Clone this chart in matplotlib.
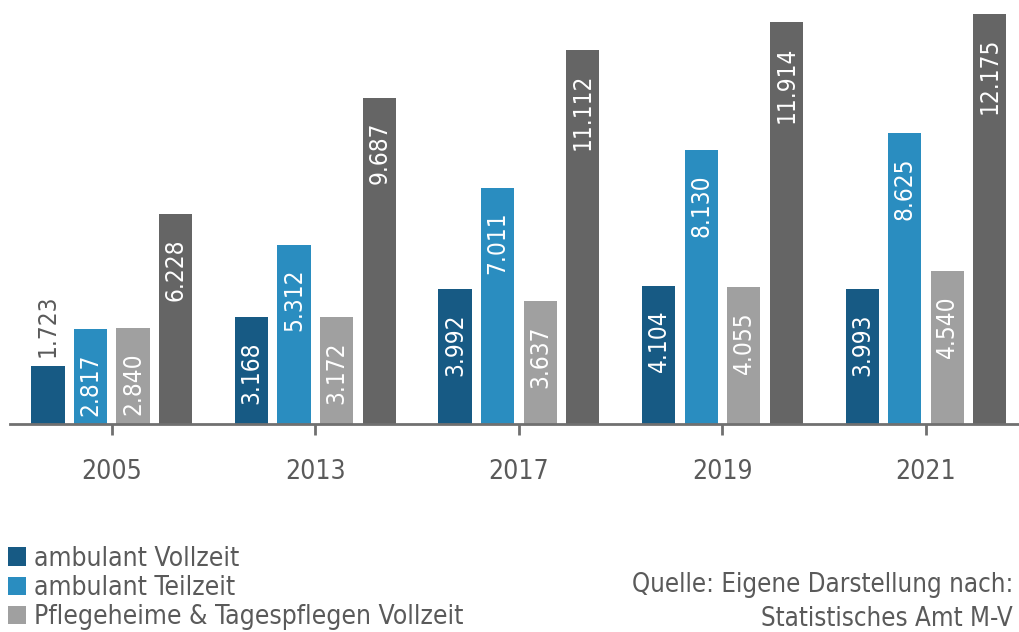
import matplotlib
matplotlib.use("Agg")
import matplotlib.pyplot as plt
import numpy as np

# schmale Schrift wie im Original
plt.rcParams['font.family'] = ['DejaVu Sans']
plt.rcParams['font.stretch'] = 'condensed'

years = ['2005', '2013', '2017', '2019', '2021']
amb_voll = [1.723, 3.168, 3.992, 4.104, 3.993]
amb_teil = [2.817, 5.312, 7.011, 8.130, 8.625]
pflege_voll = [2.840, 3.172, 3.637, 4.055, 4.540]
pflege_teil = [6.228, 9.687, 11.112, 11.914, 12.175]

series = [amb_voll, amb_teil, pflege_voll, pflege_teil]
names = ['ambulant Vollzeit', 'ambulant Teilzeit',
         'Pflegeheime & Tagespflegen Vollzeit', 'Pflegeheime & Tagespflegen Teilzeit']
colors = ['#175a84', '#2a8dc0', '#a0a0a0', '#656565']
txt = '#5a5a5a'

fig = plt.figure(figsize=(10.19, 6.32), dpi=100)
ax = fig.add_axes([10 / 1019, 1 - 424 / 632, 1 - 10 / 1019, 424 / 632])

x = np.arange(len(years))
w = 0.163
offs = [-1.5, -0.5, 0.5, 1.5]
bars = []
for i, vals in enumerate(series):
    b = ax.bar(x + offs[i] * 0.209, vals, w, color=colors[i], zorder=2)
    bars.append(b)
    for xi, v in zip(x + offs[i] * 0.209, vals):
        lab = f'{v:.3f}'
        if v < 2:
            # Balken zu kurz -> Wert oberhalb
            ax.annotate(lab, (xi, v), xytext=(0, 9), textcoords='offset pixels',
                        rotation=90, ha='center', va='bottom', color=txt, fontsize=17.5)
        else:
            ax.annotate(lab, (xi, v), xytext=(0, -24), textcoords='offset pixels',
                        rotation=90, ha='center', va='top', color='white', fontsize=17.5)

ax.set_xlim(-0.5, (1019 - 112) / 203.5)
ax.set_ylim(0, 424 / 33.7)
ax.set_xticks(x)
ax.set_xticklabels(years, fontsize=19, color=txt)
ax.set_yticks([])
for s in ['top', 'right', 'left']:
    ax.spines[s].set_visible(False)
ax.spines['bottom'].set_color('#707070')
ax.spines['bottom'].set_linewidth(2)
ax.tick_params(axis='x', length=8, width=2, color='#707070', pad=17)

fig.legend(bars[:3], names[:3], loc='upper left', bbox_to_anchor=(0.0, 1 - 538 / 632),
           frameon=False, fontsize=19, labelcolor=txt, handlelength=0.7, handleheight=0.7,
           handletextpad=0.3, labelspacing=0.12, borderaxespad=0, borderpad=0.3)

fig.text(1013 / 1019, 1 - 585 / 632, 'Quelle: Eigene Darstellung nach:', ha='right', va='center',
         fontsize=18.5, color=txt)
fig.text(1013 / 1019, 1 - 619 / 632, 'Statistisches Amt M-V', ha='right', va='center',
         fontsize=18.5, color=txt)

fig.savefig('out.png', dpi=100)
